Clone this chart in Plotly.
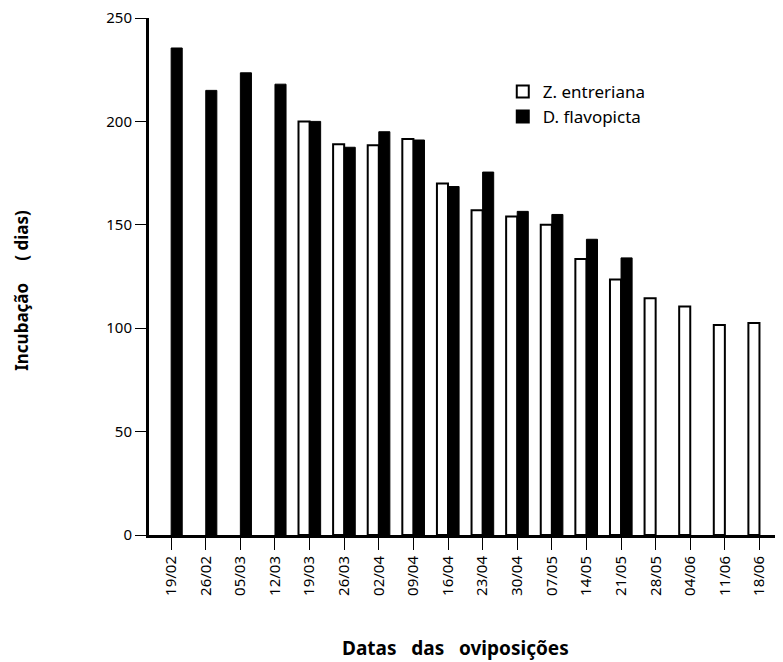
import plotly.graph_objects as go

dates = ["19/02", "26/02", "05/03", "12/03", "19/03", "26/03", "02/04", "09/04", "16/04",
         "23/04", "30/04", "07/05", "14/05", "21/05", "28/05", "04/06", "11/06", "18/06"]
z_entreriana = [None, None, None, None, 200, 189, 188.5, 191.5, 170,
                157, 154, 150, 133.5, 123.5, 114.5, 110.5, 101.5, 102.5]
d_flavopicta = [235.5, 215, 223.5, 218, 200, 187.5, 195, 191, 168.5,
                175.5, 156.5, 155, 143, 134, None, None, None, None]
y_ticks = [0, 50, 100, 150, 200, 250]

FONT = "Noto Sans"

fig = go.Figure()
fig.add_trace(go.Bar(
    x=dates, y=z_entreriana, name="Z. entreriana",
    marker=dict(color="white", line=dict(color="black", width=2)),
))
fig.add_trace(go.Bar(
    x=dates, y=d_flavopicta, name="D. flavopicta",
    marker=dict(color="black", line=dict(color="black", width=1)),
))

fig.update_layout(
    width=775, height=654,
    margin=dict(l=141, r=0, t=10, b=127),
    paper_bgcolor="white", plot_bgcolor="white",
    barmode="group", bargap=0.36, bargroupgap=0,
    font=dict(family=FONT, color="black", size=14),
    showlegend=True,
    legend=dict(x=0.558, y=0.892, xanchor="left", yanchor="top",
                font=dict(family=FONT, size=17, color="black"),
                bgcolor="rgba(0,0,0,0)", itemsizing="constant",
                tracegroupgap=16),
    xaxis=dict(type="category", categoryorder="array", categoryarray=dates,
               range=[-0.64, 17.68], showline=True, linewidth=3, linecolor="black",
               ticks="outside", ticklen=12, tickwidth=1, tickcolor="black",
               tickangle=-90, tickfont=dict(family=FONT, size=15, color="black"),
               showgrid=False, zeroline=False, automargin=False,
               ticklabeloverflow="allow"),
    yaxis=dict(range=[0, 250], tickvals=y_ticks, showline=True, linewidth=3,
               linecolor="black", ticks="outside", ticklen=11, tickwidth=1,
               tickcolor="black", tickfont=dict(family=FONT, size=15, color="black"),
               showgrid=False, zeroline=False, automargin=False,
               ticklabeloverflow="allow"),
    annotations=[
        dict(text="<b>Datas\u00a0\u00a0\u00a0das\u00a0\u00a0\u00a0oviposições</b>", xref="paper", yref="paper",
             x=0.483, y=-0.2186, xanchor="center", yanchor="middle", showarrow=False,
             font=dict(family=FONT, size=19, color="black")),
        dict(text="<b>Incubação\u00a0\u00a0\u00a0\u00a0\u00a0(\u00a0dias)</b>", xref="paper", yref="paper",
             x=-0.2005, y=0.474, xanchor="center", yanchor="middle", showarrow=False,
             textangle=-90, font=dict(family=FONT, size=17, color="black")),
    ],
)

fig.write_html("out.html")
